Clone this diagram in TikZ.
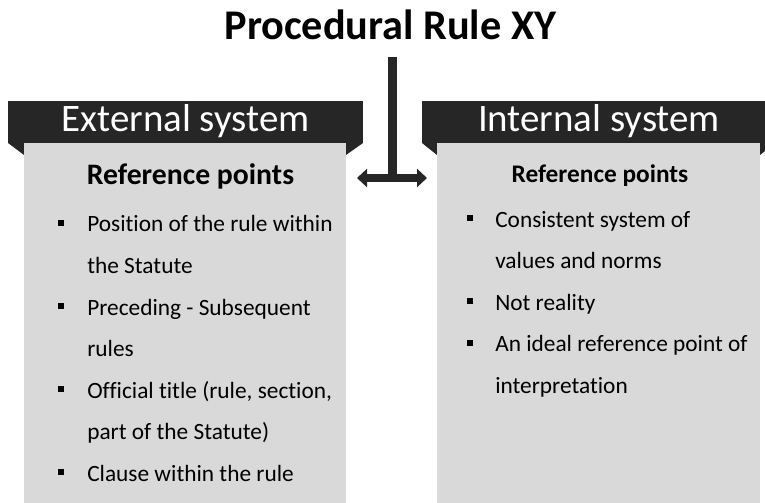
\documentclass[tikz,border=0pt]{standalone}
\usepackage{fontspec}
\setmainfont{Carlito}[Ligatures={NoCommon}]
\usetikzlibrary{arrows.meta}
\definecolor{darkhead}{HTML}{262626}
\definecolor{greybox}{HTML}{D9D9D9}
\begin{document}
\begin{tikzpicture}[x=0.75pt,y=-0.75pt,
  titletext/.style={font=\fontsize{31.7}{36}\selectfont\bfseries, anchor=base, inner sep=0pt},
  headtext/.style={font=\fontsize{29.2}{34}\selectfont, text=white, anchor=base, inner sep=0pt},
  lefthead/.style={font=\fontsize{22.3}{26}\selectfont\bfseries, anchor=base, inner sep=0pt},
  righthead/.style={font=\fontsize{19}{22}\selectfont\bfseries, anchor=base, inner sep=0pt},
  itemtext/.style={font=\fontsize{17.5}{21}\selectfont, anchor=base west, inner sep=0pt},
  bulletbox/.style={fill=black, minimum size=4.5pt, inner sep=0pt, outer sep=0pt},
  connector/.style={draw=darkhead, line width=6.75pt},
  twoway/.style={draw=darkhead, line width=6pt, {Triangle[length=7.5pt,width=13.5pt]}-{Triangle[length=7.5pt,width=13.5pt]}}
]
\useasboundingbox (0,0) rectangle (765,503);
\begin{scope}
\clip (0,0) rectangle (765,503);
% left panel
\fill[darkhead] (8,101) rectangle (363,143);
\fill[darkhead] (8,143) -- (24,143) -- (24,155) -- cycle;
\fill[darkhead] (346,143) -- (363,143) -- (346,155) -- cycle;
\fill[greybox] (24,143) rectangle (346,510);
% right panel
\fill[darkhead] (422,101) rectangle (775,143);
\fill[darkhead] (422,143) -- (437,143) -- (437,155) -- cycle;
\fill[darkhead] (760,143) -- (775,143) -- (760,155) -- cycle;
\fill[greybox] (437,143) rectangle (760,510);
\end{scope}

\node[titletext] (title) at (390.5,40) {Procedural Rule XY};
\node[headtext] (exthead) at (185.5,132) {External system};
\node[headtext] (inthead) at (599,132) {Internal system};

% connector
\coordinate (stemtop) at (392,57);
\coordinate (junction) at (392,178);
\coordinate (lefttip) at (357,178);
\coordinate (righttip) at (427,178);
\draw[connector] (stemtop) -- (junction);
\draw[twoway] (lefttip) -- (righttip);

% left content
\node[lefthead] (lref) at (190.5,185) {Reference points};
\node[bulletbox] (lb1) at (61,223) {};
\node[itemtext] (l1a) at (87,232) {Position of the rule within};
\node[itemtext] (l1b) at (87,273.5) {the Statute};
\node[bulletbox] (lb2) at (61,306) {};
\node[itemtext] (l2a) at (87,315) {Preceding - Subsequent};
\node[itemtext] (l2b) at (87,356.5) {rules};
\node[bulletbox] (lb3) at (61,389) {};
\node[itemtext] (l3a) at (87,398) {Official title (rule, section,};
\node[itemtext] (l3b) at (87,439.5) {part of the Statute)};
\node[bulletbox] (lb4) at (61,472) {};
\node[itemtext] (l4a) at (87,481) {Clause within the rule};

% right content
\node[righthead] (rref) at (600,182) {Reference points};
\node[bulletbox] (rb1) at (470,218) {};
\node[itemtext] (r1a) at (495,227) {Consistent system of};
\node[itemtext] (r1b) at (495,268.5) {values and norms};
\node[bulletbox] (rb2) at (470,301) {};
\node[itemtext] (r2a) at (495,310) {Not reality};
\node[bulletbox] (rb3) at (470,342.5) {};
\node[itemtext] (r3a) at (495,351.5) {An ideal reference point of};
\node[itemtext] (r3b) at (495,393) {interpretation};
\end{tikzpicture}
\end{document}
